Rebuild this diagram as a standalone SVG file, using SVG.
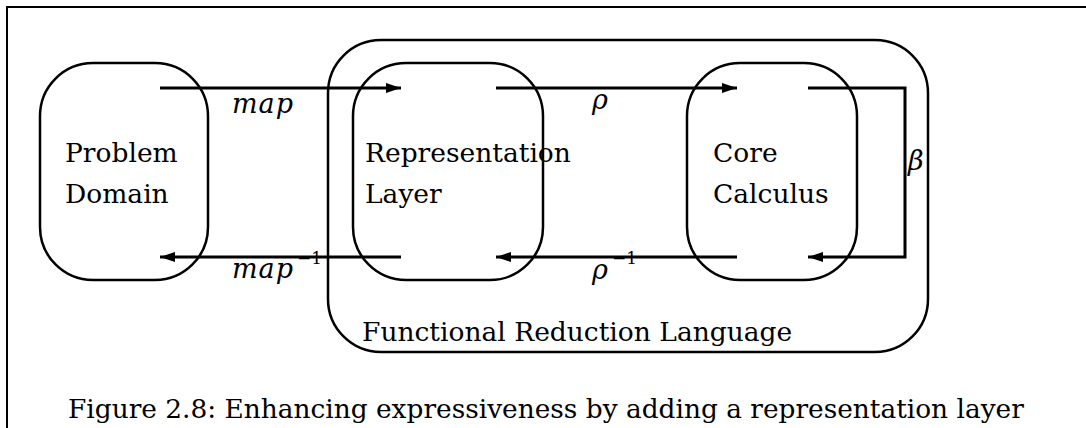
<svg xmlns="http://www.w3.org/2000/svg" width="1086" height="428" viewBox="0 0 1086 428">
  <style>
    .box { fill: none; stroke: #000; stroke-width: 2.5; }
    .frame { fill: none; stroke: #000; stroke-width: 2; }
    .conn { fill: none; stroke: #000; stroke-width: 3; }
    .lbl { font-size: 26.5px; }
    .math { font-style: italic; font-size: 27px; }
    .sup { font-size: 17px; }
    .cap { font-size: 26.4px; }
  </style>
  <defs>
    <marker id="arr" markerUnits="userSpaceOnUse" markerWidth="16" markerHeight="12" refX="15" refY="5" orient="auto">
      <path d="M0,0 L15,5 L0,10 z" fill="#000"/>
    </marker>
  </defs>
  <rect width="1086" height="428" fill="#fff"/>
  <path class="frame" d="M7,428 V7 H1086"/>

  <g id="functional-reduction-language">
    <rect class="box" x="328" y="40" width="600" height="312" rx="53" ry="53"/>
    <text class="lbl" font-family="DejaVu Serif, Liberation Serif, serif" x="362" y="341">Functional Reduction Language</text>
  </g>
  <g id="problem-domain">
    <rect class="box" x="40" y="63" width="168" height="217" rx="53" ry="53"/>
    <text class="lbl" font-family="DejaVu Serif, Liberation Serif, serif" x="65" y="162">Problem</text>
    <text class="lbl" font-family="DejaVu Serif, Liberation Serif, serif" x="65" y="203">Domain</text>
  </g>
  <g id="representation-layer">
    <rect class="box" x="353" y="63" width="190" height="217" rx="53" ry="53"/>
    <text class="lbl" font-family="DejaVu Serif, Liberation Serif, serif" x="365" y="162">Representation</text>
    <text class="lbl" font-family="DejaVu Serif, Liberation Serif, serif" x="365" y="203">Layer</text>
  </g>
  <g id="core-calculus">
    <rect class="box" x="687" y="63" width="170" height="217" rx="53" ry="53"/>
    <text class="lbl" font-family="DejaVu Serif, Liberation Serif, serif" x="713" y="162">Core</text>
    <text class="lbl" font-family="DejaVu Serif, Liberation Serif, serif" x="713" y="203">Calculus</text>
  </g>

  <g id="connectors">
    <path class="conn" d="M160,88 H401" marker-end="url(#arr)"/>
    <path class="conn" d="M496,88 H737" marker-end="url(#arr)"/>
    <path class="conn" d="M808,88 H905 V257 H808" marker-end="url(#arr)"/>
    <path class="conn" d="M737,257 H496" marker-end="url(#arr)"/>
    <path class="conn" d="M401,257 H160" marker-end="url(#arr)"/>
    <text class="math" font-family="DejaVu Serif, Liberation Serif, serif" letter-spacing="1" x="232" y="113">map</text>
    <text class="math" font-family="DejaVu Serif, Liberation Serif, serif" x="592" y="109">&#961;</text>
    <text class="math" font-family="DejaVu Serif, Liberation Serif, serif" x="908" y="170">&#946;</text>
    <text class="math" font-family="DejaVu Serif, Liberation Serif, serif" letter-spacing="1" x="232" y="278">map</text>
    <text class="sup" font-family="DejaVu Serif, Liberation Serif, serif" x="297" y="264">&#8722;1</text>
    <text class="math" font-family="DejaVu Serif, Liberation Serif, serif" x="592" y="279">&#961;</text>
    <text class="sup" font-family="DejaVu Serif, Liberation Serif, serif" x="612" y="264">&#8722;1</text>
  </g>

  <text class="cap" font-family="DejaVu Serif, Liberation Serif, serif" x="68" y="418">Figure 2.8: Enhancing expressiveness by adding a representation layer</text>
</svg>
